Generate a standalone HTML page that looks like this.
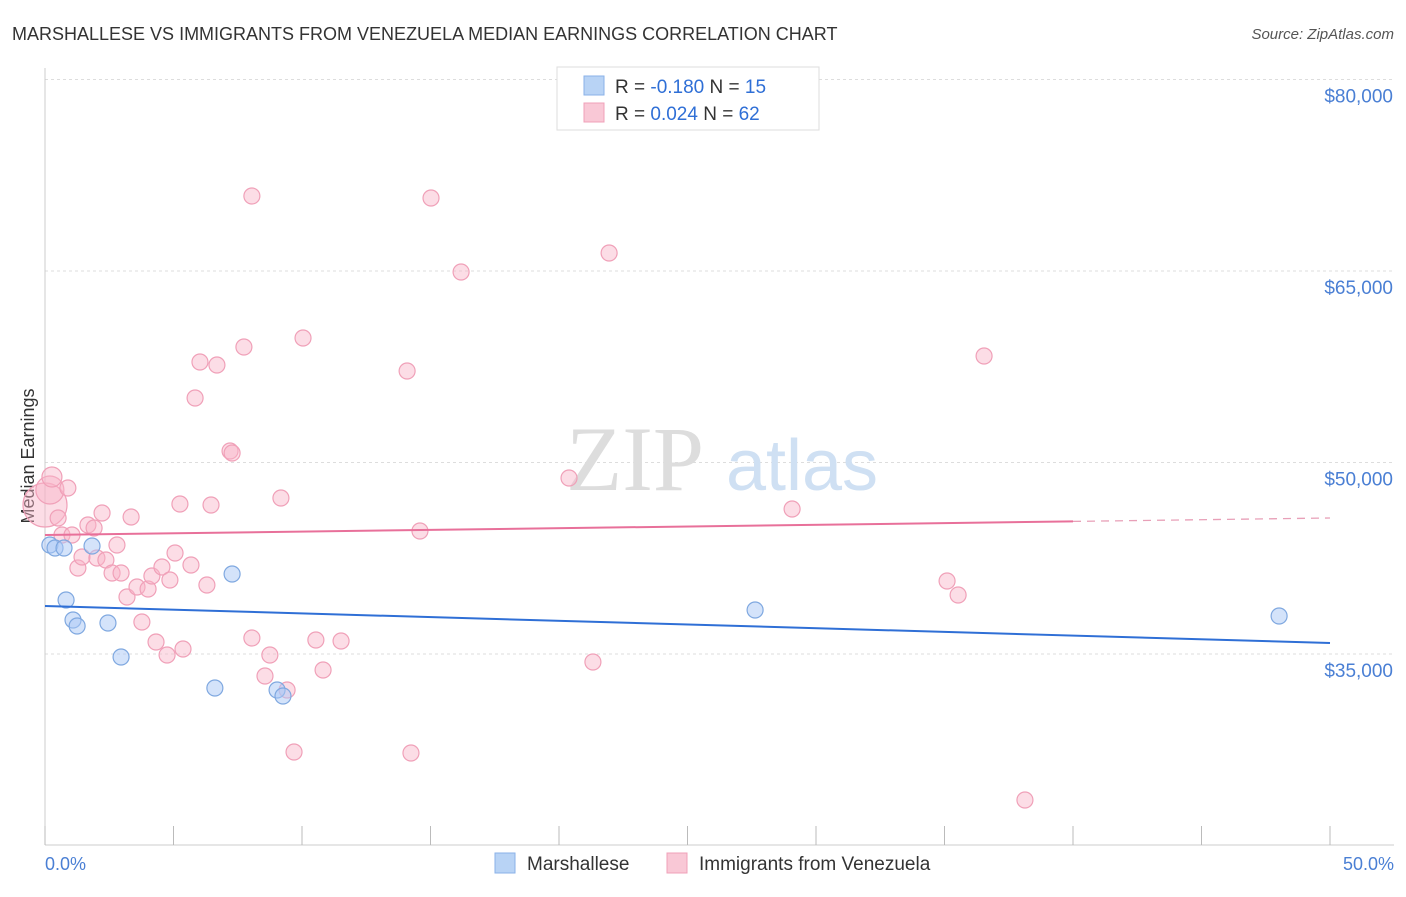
<!DOCTYPE html>
<html><head><meta charset="utf-8">
<style>
body{margin:0;background:#fff;font-family:"Liberation Sans",sans-serif;}
svg text{font-family:"Liberation Sans",sans-serif;}
</style></head>
<body>
<svg width="1406" height="892" viewBox="0 0 1406 892">
<text x="12" y="40" font-size="18" fill="#333">MARSHALLESE VS IMMIGRANTS FROM VENEZUELA MEDIAN EARNINGS CORRELATION CHART</text>
<text x="1394" y="39" font-size="15" fill="#555" font-style="italic" text-anchor="end">Source: ZipAtlas.com</text>
<g id="grid"></g>
<g>
<text x="635" y="490" font-size="92" fill="#ddd" font-family="Liberation Serif" text-anchor="middle" style="font-family:'Liberation Serif',serif">ZIP</text>
<text x="802" y="490" font-size="72" fill="#cfe0f3" text-anchor="middle">atlas</text>
</g>
<line x1="45" y1="68" x2="45" y2="845" stroke="#ccc"/>
<line x1="45" y1="845" x2="1394" y2="845" stroke="#ccc"/>
<g id="xticks"></g>
<g id="ylabels"></g>
<text x="45" y="870" font-size="18" fill="#4a7fd4">0.0%</text>
<text x="1394" y="870" font-size="18" fill="#4a7fd4" text-anchor="end">50.0%</text>
<text transform="translate(34,456) rotate(-90)" font-size="18" fill="#333" text-anchor="middle">Median Earnings</text>
<g id="pink"></g>
<g id="blue"></g>
<g id="trends"></g>
<g>
<rect x="557" y="67" width="262" height="63" fill="#fff" stroke="#ddd"/>
<rect x="584" y="76" width="20" height="19" fill="#b8d3f5" stroke="#8ab2e8"/>
<rect x="584" y="103" width="20" height="19" fill="#f9c8d6" stroke="#f0a0b8"/>
<text x="615" y="93" font-size="19" fill="#333">R = <tspan fill="#2f6fd6">-0.180</tspan>   N =  <tspan fill="#2f6fd6">15</tspan></text>
<text x="615" y="120" font-size="19" fill="#333">R =  <tspan fill="#2f6fd6">0.024</tspan>   N = <tspan fill="#2f6fd6">62</tspan></text>
</g>
<g>
<rect x="495" y="853" width="20" height="20" fill="#b8d3f5" stroke="#8ab2e8"/>
<text x="527" y="870" font-size="19" fill="#333">Marshallese</text>
<rect x="667" y="853" width="20" height="20" fill="#f9c8d6" stroke="#f0a0b8"/>
<text x="699" y="870" font-size="19" fill="#333">Immigrants from Venezuela</text>
</g>
</svg>
<script>
const yTicks=[35000,50000,65000,80000];
const yTickLabels=["$35,000","$50,000","$65,000","$80,000"];
const xTicks=[0,5,10,15,20,25,30,35,40,45,50];
const blueX=[0.19,0.39,0.74,0.82,1.09,1.25,1.83,2.45,2.96,6.61,7.28,9.03,9.26,27.63,48.02];
const blueY=[43538,43303,43303,39230,37663,37193,43460,37428,34765,32337,41266,32180,31710,38447,37977];
const pinkX=[0.0,0.19,0.27,0.51,0.89,0.66,1.05,1.28,1.44,1.67,1.91,2.02,2.22,2.37,2.61,2.80,2.96,3.19,3.35,3.58,3.77,4.01,4.16,4.32,4.55,4.75,4.86,5.06,5.25,5.37,5.68,5.84,6.03,6.30,6.46,6.69,7.20,7.28,7.74,8.05,8.05,8.56,8.75,9.18,9.42,9.69,10.04,10.54,10.82,11.52,14.09,14.24,14.59,15.02,16.19,20.39,21.32,21.95,29.07,35.10,35.53,36.54,38.13];
const pinkY=[46671,47846,48865,45653,48003,44321,44321,41737,42599,45105,44870,42520,46045,42363,41345,43538,41345,39465,45731,40248,37506,40091,41110,35940,41815,34922,40796,42912,46750,35392,41972,55053,57873,40405,46671,57638,50901,50744,59047,70876,36253,33277,34922,47220,32180,27324,59752,36097,33747,36018,57168,27245,44635,70719,64923,48786,34373,66410,46358,40718,39622,58342,23563];
const pinkR=[22,14,10];
const blueTrend=[38760,35862];
const pinkTrend=[44321,45653];
const pinkSolidEnd=40;

const NS="http://www.w3.org/2000/svg";
const xs=v=>45+v/50*1285;
const ys=v=>654-(v-35000)*191.5/15000;
function mk(tag,attrs,parent){const e=document.createElementNS(NS,tag);for(const k in attrs)e.setAttribute(k,attrs[k]);parent.appendChild(e);return e;}
const grid=document.getElementById('grid'),yl=document.getElementById('ylabels'),xt=document.getElementById('xticks');
yTicks.forEach((t,i)=>{
  const l=mk('line',{x1:45,x2:1394,y1:ys(t),y2:ys(t),stroke:'#ddd','stroke-dasharray':'3,3'},grid);
  
  
  const tx=mk('text',{x:1393,y:ys(t)+23,'font-size':19,fill:'#4a7fd4','text-anchor':'end'},yl);
  tx.textContent=yTickLabels[i];
  
  
});
xTicks.forEach(t=>{
  const l=mk('line',{x1:xs(t),x2:xs(t),y1:826,y2:845,stroke:'#bbb'},xt);
  
  
});
const pg=document.getElementById('pink');
pinkX.forEach((x,i)=>{
  const c=mk('circle',{cx:xs(x),cy:ys(pinkY[i]),r:pinkR[i]||8,fill:'rgba(248,180,200,0.45)',stroke:'#f0a0b8','stroke-width':1.2},pg);
  
  
});
const bg=document.getElementById('blue');
blueX.forEach((x,i)=>{
  const c=mk('circle',{cx:xs(x),cy:ys(blueY[i]),r:8,fill:'rgba(170,200,245,0.5)',stroke:'#7fa8e0','stroke-width':1.2},bg);
  
  
});
const tg=document.getElementById('trends');
const bl=mk('line',{x1:xs(0),y1:ys(blueTrend[0]),x2:xs(50),y2:ys(blueTrend[1]),stroke:'#2f6fd6','stroke-width':2},tg);


const pm=pinkTrend[0]+(pinkTrend[1]-pinkTrend[0])*pinkSolidEnd/50;
const pl=mk('line',{x1:xs(0),y1:ys(pinkTrend[0]),x2:xs(pinkSolidEnd),y2:ys(pm),stroke:'#e8709a','stroke-width':2},tg);


const pd=mk('line',{x1:xs(pinkSolidEnd),y1:ys(pm),x2:xs(50),y2:ys(pinkTrend[1]),stroke:'#e8a0b8','stroke-width':1.3,'stroke-dasharray':'8,6'},tg);


</script>
</body></html>
